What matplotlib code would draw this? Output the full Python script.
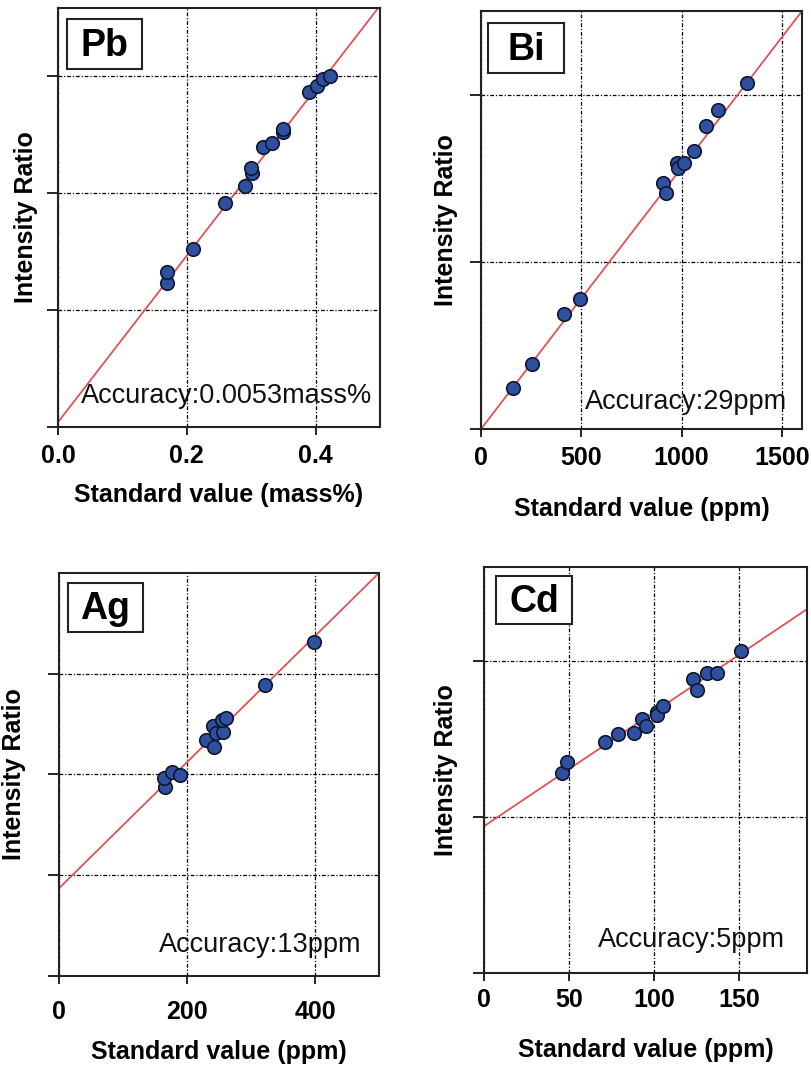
import matplotlib
matplotlib.use("Agg")
import matplotlib.pyplot as plt
from matplotlib.patches import Rectangle
import numpy as np

plt.rcParams['font.family'] = ['Liberation Sans', 'DejaVu Sans']

# ---- data ----
pb_x = [0.170, 0.170, 0.209, 0.260, 0.290, 0.302, 0.300, 0.319, 0.332, 0.350, 0.350, 0.389, 0.402, 0.411, 0.422]
pb_y = [1.23, 1.32, 1.52, 1.91, 2.06, 2.17, 2.21, 2.39, 2.43, 2.52, 2.55, 2.86, 2.91, 2.97, 3.00]

bi_x = [160, 255, 415, 495, 905, 920, 975, 980, 1010, 1060, 1120, 1180, 1325]
bi_y = [0.245, 0.39, 0.69, 0.78, 1.47, 1.41, 1.59, 1.56, 1.59, 1.66, 1.81, 1.91, 2.07]

ag_x = [165, 164, 176, 189, 229, 242, 240, 246, 256, 254, 261, 322, 398]
ag_y = [1.88, 1.96, 2.02, 1.99, 2.34, 2.27, 2.48, 2.41, 2.42, 2.54, 2.56, 2.89, 3.31]

cd_x = [46, 49, 71, 79, 88, 93, 95, 102, 102, 105, 123, 125, 131, 137, 151]
cd_y = [1.28, 1.35, 1.48, 1.53, 1.54, 1.63, 1.58, 1.67, 1.65, 1.71, 1.88, 1.81, 1.92, 1.92, 2.06]

elements = ['Pb', 'Bi', 'Ag', 'Cd']
accuracy = ['Accuracy:0.0053mass%', 'Accuracy:29ppm', 'Accuracy:13ppm', 'Accuracy:5ppm']
xlabels = ['Standard value (mass%)', 'Standard value (ppm)', 'Standard value (ppm)', 'Standard value (ppm)']
fit_intercept = [0.04, 0.0, 0.87, 0.94]
fit_slope = [7.12, 2.5 / 1600, 0.00626, 0.00732]
xticks = [[0.0, 0.2, 0.4], [0, 500, 1000, 1500], [0, 200, 400], [0, 50, 100, 150]]
xticklabels = [['0.0', '0.2', '0.4'], ['0', '500', '1000', '1500'], ['0', '200', '400'], ['0', '50', '100', '150']]
xlims = [0.5, 1600, 500, 190]
ylims = [3.58, 2.5, 4.0, 2.6]
yticks = [[0, 1, 2, 3], [0, 1, 2], [0, 1, 2, 3], [0, 1, 2]]
xs = [pb_x, bi_x, ag_x, cd_x]
ys = [pb_y, bi_y, ag_y, cd_y]

# layout (figure fractions / axes fractions)
axes_pos = [[0.0714, 0.6054, 0.3966, 0.3872],
            [0.5924, 0.6035, 0.3953, 0.3863],
            [0.0727, 0.0980, 0.3941, 0.3725],
            [0.5961, 0.1007, 0.3978, 0.3752]]
box_pos = [(0.028, 0.854, 0.233, 0.119),
           (0.022, 0.852, 0.237, 0.120),
           (0.028, 0.854, 0.234, 0.122),
           (0.037, 0.860, 0.235, 0.118)]
acc_pos = [(0.975, 0.074), (0.953, 0.065), (0.944, 0.077), (0.932, 0.081)]
ylabel_x = [-0.062, -0.072, -0.103, -0.080]
xlabel_y = [-0.133, -0.163, -0.158, -0.160]
tick_pad = [6, 6, 11, 5]

fig = plt.figure(figsize=(8.12, 10.82), dpi=100)

for i in range(4):
    ax = fig.add_axes(axes_pos[i])
    ax.set_xlim(0, xlims[i])
    ax.set_ylim(0, ylims[i])

    # grid
    ax.set_xticks(xticks[i])
    ax.set_xticklabels(xticklabels[i], fontsize=18, fontweight='bold')
    ax.set_yticks(yticks[i])
    ax.set_yticklabels([])
    ax.grid(True, color='black', linestyle=(0, (3, 1.5, 1, 1.5)), linewidth=0.9)
    ax.set_axisbelow(True)
    ax.tick_params(axis='y', direction='out', length=8, width=1.2)
    ax.tick_params(axis='x', direction='out', length=6, width=1.2, pad=tick_pad[i])
    for sp in ax.spines.values():
        sp.set_linewidth(1.5)
        sp.set_color('#222222')

    # fit line
    lx = np.array([0, xlims[i]])
    ax.plot(lx, fit_intercept[i] + fit_slope[i] * lx, color='#e05252', linewidth=1.3, zorder=2)

    # points
    ax.scatter(xs[i], ys[i], s=95, color='#2f4f9f', edgecolors='#101830', linewidths=1.2, zorder=3)

    # element label box
    bx, by, bw, bh = box_pos[i]
    ax.add_patch(Rectangle((bx, by), bw, bh, transform=ax.transAxes, facecolor='white',
                           edgecolor='#222222', linewidth=1.5, zorder=4))
    ax.text(bx + bw / 2, by + bh / 2 - 0.005, elements[i], transform=ax.transAxes, ha='center', va='center',
            fontsize=27, fontweight='bold', zorder=5)

    ax.text(acc_pos[i][0], acc_pos[i][1], accuracy[i], transform=ax.transAxes, ha='right', va='center',
            fontsize=19.5, color='#111111', zorder=5)

    ax.set_ylabel('Intensity Ratio', fontsize=18, fontweight='bold')
    ax.yaxis.set_label_coords(ylabel_x[i], 0.5)
    ax.set_xlabel(xlabels[i], fontsize=18, fontweight='bold')
    ax.xaxis.set_label_coords(0.5, xlabel_y[i])

fig.savefig('out.png', dpi=100)
